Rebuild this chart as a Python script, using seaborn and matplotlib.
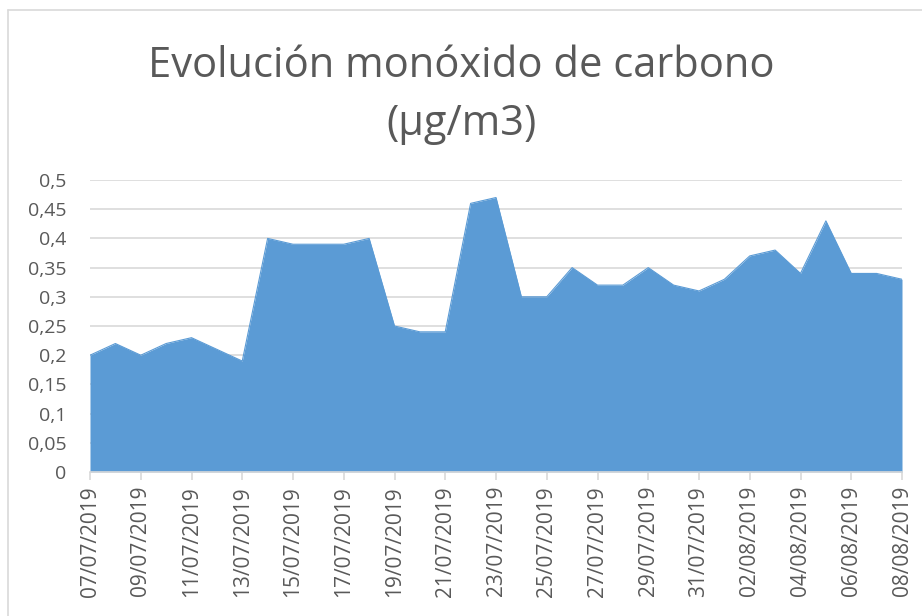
import pandas as pd
import numpy as np
import matplotlib.pyplot as plt
import matplotlib.lines as mlines
import seaborn as sns

# --- DATA ---
dates = ["07/07/2019", "08/07/2019", "09/07/2019", "10/07/2019", "11/07/2019",
         "12/07/2019", "13/07/2019", "14/07/2019", "15/07/2019", "16/07/2019",
         "17/07/2019", "18/07/2019", "19/07/2019", "20/07/2019", "21/07/2019",
         "22/07/2019", "23/07/2019", "24/07/2019", "25/07/2019", "26/07/2019",
         "27/07/2019", "28/07/2019", "29/07/2019", "30/07/2019", "31/07/2019",
         "01/08/2019", "02/08/2019", "03/08/2019", "04/08/2019", "05/08/2019",
         "06/08/2019", "07/08/2019", "08/08/2019"]
co_values = [0.20, 0.22, 0.20, 0.22, 0.23, 0.21, 0.19, 0.40, 0.39, 0.39,
             0.39, 0.40, 0.25, 0.24, 0.24, 0.46, 0.47, 0.30, 0.30, 0.35,
             0.32, 0.32, 0.35, 0.32, 0.31, 0.33, 0.37, 0.38, 0.34, 0.43,
             0.34, 0.34, 0.33]
y_ticks = [0, 0.05, 0.1, 0.15, 0.2, 0.25, 0.3, 0.35, 0.4, 0.45, 0.5]

df = pd.DataFrame({'fecha': dates, 'co': co_values})
df['pos'] = np.arange(len(df))

sns.set_theme(style="white")
plt.rcParams['font.family'] = ['Open Sans', 'DejaVu Sans']

fig = plt.figure(figsize=(9.22, 6.16), dpi=100)
ax = fig.add_axes([90 / 922, 1 - 472 / 616, 812 / 922, 292 / 616])

fill_color = '#5B9BD5'
ax.fill_between(df['pos'], df['co'], 0, color=fill_color, linewidth=0, zorder=2)
sns.lineplot(data=df, x='pos', y='co', color=fill_color, linewidth=0.8, ax=ax, zorder=3)

ax.set_xlim(0, len(df) - 1)
ax.set_ylim(0, 0.5)
ax.set_yticks(y_ticks)
ax.set_yticklabels([f"{v:g}".replace('.', ',') for v in y_ticks],
                   fontsize=14, color='#595959')
tick_pos = df['pos'][::2]
ax.set_xticks(tick_pos)
ax.set_xticklabels(df['fecha'][::2], rotation=90, fontsize=15, color='#595959')
ax.set_xlabel('')
ax.set_ylabel('')

ax.grid(axis='y', color='#d9d9d9', linewidth=1.2, zorder=0)
ax.set_axisbelow(True)
for side in ['top', 'right', 'left']:
    ax.spines[side].set_visible(False)
ax.spines['bottom'].set_color('#d9d9d9')
ax.spines['bottom'].set_linewidth(1.2)
ax.tick_params(axis='x', length=6, width=1.2, color='#d9d9d9', bottom=True, pad=4)
ax.tick_params(axis='y', length=0, pad=17)

fig.text(0.5, 0.846, 'Evolución monóxido de carbono\n(µg/m3)', ha='center', va='center',
         fontsize=30, color='#595959', linespacing=1.5)

# chart border (left and top edges visible in the crop)
fig.add_artist(mlines.Line2D([8 / 922, 8 / 922], [0, 1 - 10 / 616], color='#d9d9d9', linewidth=1.2))
fig.add_artist(mlines.Line2D([8 / 922, 1], [1 - 10 / 616, 1 - 10 / 616], color='#d9d9d9', linewidth=1.2))

fig.savefig('out.png', dpi=100)
